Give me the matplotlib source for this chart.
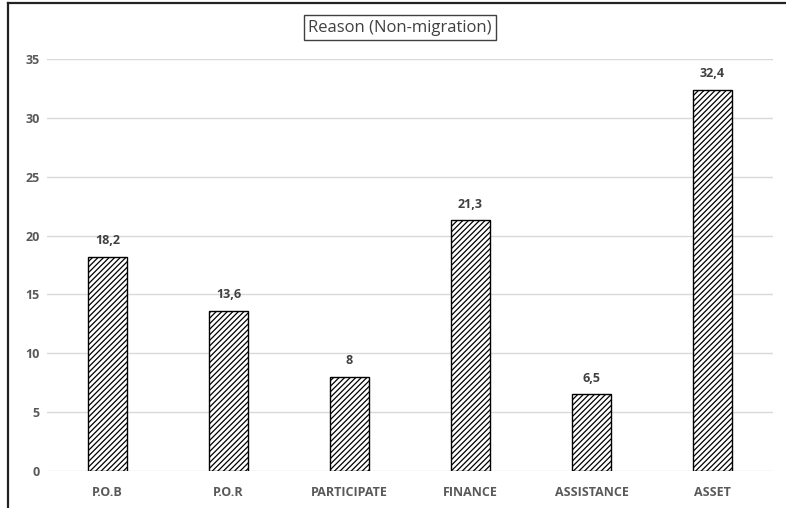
import matplotlib
matplotlib.use("Agg")
import matplotlib.pyplot as plt
from matplotlib.lines import Line2D

categories = ["P.O.B", "P.O.R", "PARTICIPATE", "FINANCE", "ASSISTANCE", "ASSET"]
values = [18.2, 13.6, 8, 21.3, 6.5, 32.4]
value_labels = ["18,2", "13,6", "8", "21,3", "6,5", "32,4"]
yticks = [0, 5, 10, 15, 20, 25, 30, 35]

plt.rcParams["font.family"] = ["Open Sans", "DejaVu Sans"]
plt.rcParams["hatch.linewidth"] = 0.9

W, H = 786, 508
fig = plt.figure(figsize=(W / 100, H / 100), dpi=100)
ax = fig.add_axes([47 / W, 1 - 471 / H, (773 - 47) / W, (471 - 59) / H])

x = list(range(len(categories)))
ax.bar(x, values, width=0.32, color="white", edgecolor="black",
       linewidth=1.0, hatch="//////", zorder=3)

for xi, v, lab in zip(x, values, value_labels):
    ax.annotate(lab, (xi, v), xytext=(0, 7), textcoords="offset points",
                ha="center", va="bottom", fontsize=9, fontweight="bold",
                color="#404040")

ax.set_xlim(-0.5, len(categories) - 0.5)
ax.set_ylim(0, 35)
ax.set_yticks(yticks)
ax.set_yticklabels([str(t) for t in yticks], fontweight="bold")
ax.set_xticks(x)
ax.set_xticklabels(categories, fontweight="bold")
ax.yaxis.grid(True, color="#d9d9d9", linewidth=1.0, zorder=0)
ax.set_axisbelow(True)
for s in ax.spines.values():
    s.set_visible(False)
ax.tick_params(axis="both", length=0, labelsize=9, labelcolor="#595959")
ax.tick_params(axis="y", pad=5)
ax.tick_params(axis="x", pad=11)

fig.text(400 / W, 1 - 27.5 / H, "Reason (Non-migration)", ha="center", va="center",
         fontsize=12, color="#404040",
         bbox=dict(boxstyle="square,pad=0.25", facecolor="white",
                   edgecolor="#404040", linewidth=1.0))

# outer frame edges
fig.add_artist(Line2D([7.5 / W, 7.5 / W], [0, 1 - 2.5 / H], transform=fig.transFigure,
                      color="#222222", linewidth=1.6))
fig.add_artist(Line2D([7.5 / W, 1], [1 - 2.5 / H, 1 - 2.5 / H], transform=fig.transFigure,
                      color="#222222", linewidth=1.6))

fig.savefig("out.png", dpi=100)
